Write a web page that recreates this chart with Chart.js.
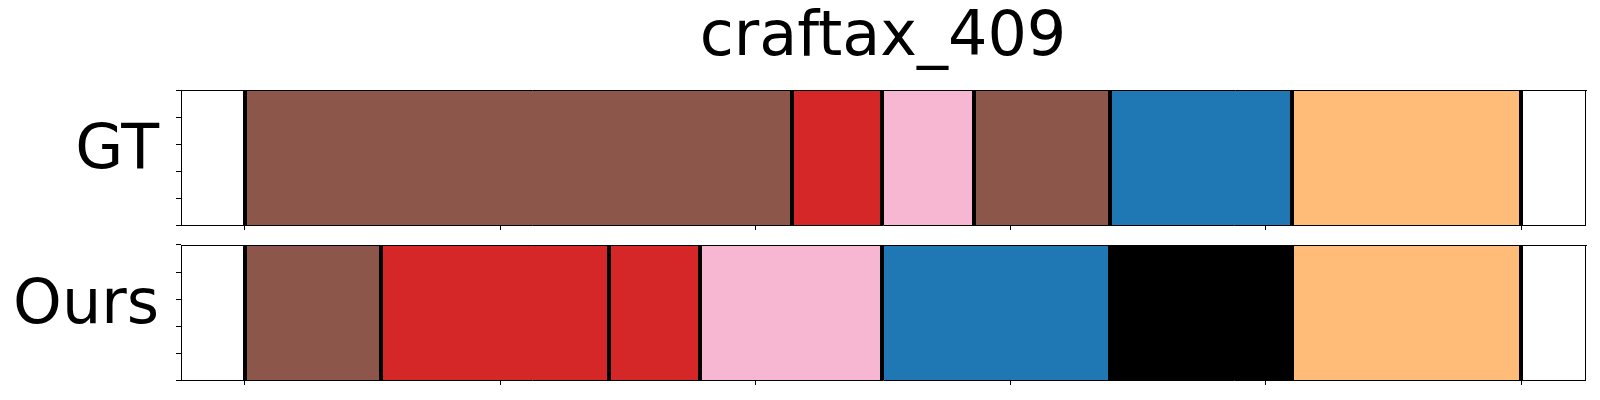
<!DOCTYPE html>
<html>
<head>
<meta charset="utf-8">
<script src="https://cdn.jsdelivr.net/npm/chart.js@4"></script>
<style>
  html, body { margin: 0; padding: 0; background: #fff; }
  #wrap { position: relative; width: 1600px; height: 400px; }
  canvas { position: absolute; left: 0; }
</style>
</head>
<body>
<div id="wrap">
  <canvas id="gt" width="1600" height="232" style="top:0"></canvas>
  <canvas id="ours" width="1600" height="168" style="top:232px"></canvas>
</div>
<script>
// x ticks (unlabelled) and y ticks of each panel
const xTicks = [0, 100, 200, 300, 400, 500];
const yTicks = [0, 0.25, 0.5, 0.75, 1];

// segment boundaries and the class of each segment
const gtEdges = [0, 214.2, 249.8, 285.5, 339.1, 410.4, 500];
const gtSegments = ["brown", "red", "pink", "brown", "blue", "orange"];

const oursEdges = [0, 53.4, 142.8, 178.4, 249.8, 339.1, 410.4, 500];
const oursSegments = ["brown", "red", "red", "pink", "blue", "black", "orange"];

const colorMap = {
    brown: "#8c564b",
    red: "#d62728",
    pink: "#f7b6d2",
    blue: "#1f77b4",
    orange: "#ffbb78",
    black: "#000000"
};

Chart.defaults.font.family = "'DejaVu Sans', sans-serif";
Chart.defaults.color = "#000";

function makePanel(id, label, edges, segs, title, pad) {
    const datasets = segs.map((s, i) => ({
        data: [[edges[i], edges[i + 1]]],
        backgroundColor: colorMap[s],
        borderWidth: 0,
        grouped: false,
        barPercentage: 1,
        categoryPercentage: 1,
        xAxisID: "x",
        yAxisID: "y"
    }));

    new Chart(document.getElementById(id), {
        type: "bar",
        data: { labels: [label], datasets: datasets },
        options: {
            indexAxis: "y",
            responsive: false,
            animation: false,
            layout: { padding: pad },
            plugins: {
                legend: { display: false },
                tooltip: { enabled: false },
                title: title ? {
                    display: true,
                    text: title,
                    fullSize: false,
                    color: "#000",
                    font: { size: 62, weight: "normal" },
                    padding: { top: 2, bottom: 14 }
                } : { display: false }
            },
            scales: {
                x: {
                    type: "linear", min: -25, max: 525,
                    afterBuildTicks: s => { s.ticks = xTicks.map(v => ({ value: v })); },
                    ticks: { display: false },
                    grid: { drawOnChartArea: false, tickLength: 5, color: "#000", lineWidth: 1 },
                    border: { color: "#000", width: 1 }
                },
                // boundary lines between segments, drawn over the bars
                xb: {
                    type: "linear", position: "top", min: -25, max: 525,
                    afterBuildTicks: s => { s.ticks = edges.map(v => ({ value: v })); },
                    ticks: { display: false },
                    grid: { drawTicks: false, color: "#000", lineWidth: 4, z: 1 },
                    border: { color: "#000", width: 1, z: 2 }
                },
                y: {
                    type: "category", position: "left", weight: 1,
                    afterFit: s => { s.width = 176; s.paddingTop = 0; s.paddingBottom = 0; },
                    ticks: { font: { size: 62 }, padding: 17, labelOffset: -6 },
                    grid: { display: false, drawTicks: false },
                    border: { display: false }
                },
                yt: {
                    type: "linear", position: "left", weight: 0, min: 0, max: 1,
                    afterBuildTicks: s => { s.ticks = yTicks.map(v => ({ value: v })); },
                    ticks: { display: false },
                    grid: { drawOnChartArea: false, tickLength: 5, color: "#000", lineWidth: 1 },
                    border: { color: "#000", width: 1 }
                },
                yr: {
                    type: "linear", position: "right", min: 0, max: 1,
                    ticks: { display: false },
                    grid: { drawOnChartArea: false, drawTicks: false },
                    border: { color: "#000", width: 1 }
                }
            }
        }
    });
}

makePanel("gt", "GT", gtEdges, gtSegments, "craftax_409", { left: 0, right: 15, top: 0, bottom: 2 });
makePanel("ours", "Ours", oursEdges, oursSegments, null, { left: 0, right: 15, top: 13, bottom: 15 });
</script>
</body>
</html>
